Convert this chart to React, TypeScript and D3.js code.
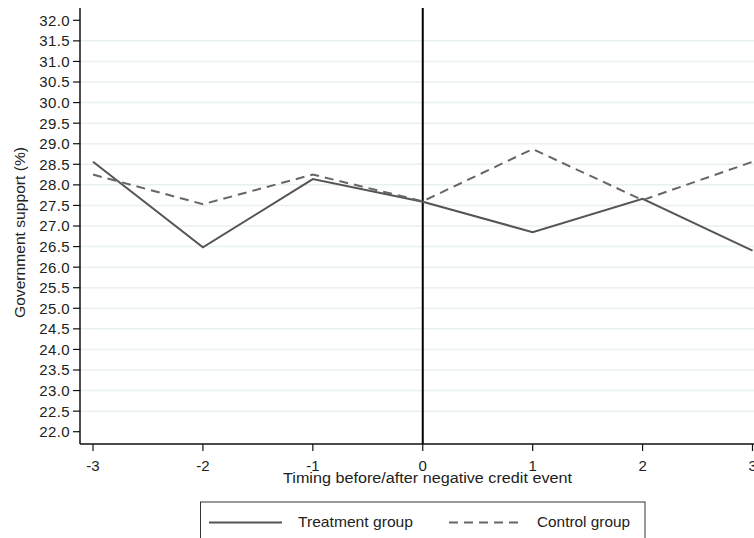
import React from "react";
import * as d3 from "d3";

const timing = [-3, -2, -1, 0, 1, 2, 3];
const treatment = [28.56, 26.48, 28.14, 27.59, 26.85, 27.66, 26.4];
const control = [28.25, 27.53, 28.25, 27.6, 28.87, 27.63, 28.56];
const yTicks = d3.range(22, 32.01, 0.5);

const W = 754;
const H = 538;
const FONT = "'Liberation Sans', Arial, sans-serif";

export default function App() {
  const x = d3.scaleLinear().domain([-3, 3]).range([93, 752.5]);
  const y = d3.scaleLinear().domain([22, 32]).range([431.7, 20.3]);
  const axisY = 80;
  const axisX = 444;
  const line = d3
    .line<number>()
    .x((_, i) => x(timing[i]))
    .y((d) => y(d));

  return (
    <svg
      width={W}
      height={H}
      style={{ position: "absolute", left: 0, top: 0, background: "#fff" }}
      fontFamily={FONT}
    >
      {/* horizontal grid */}
      {yTicks
        .filter((t) => t > 22 && t < 32)
        .map((t) => (
          <line key={"g" + t} x1={axisY} x2={W} y1={y(t)} y2={y(t)} stroke="#e9f0f2" strokeWidth={1.5} />
        ))}
      {/* y axis */}
      <line x1={axisY} x2={axisY} y1={8} y2={axisX} stroke="#111" strokeWidth={1.5} />
      {yTicks.map((t) => (
        <g key={"y" + t}>
          <line x1={axisY - 7} x2={axisY} y1={y(t)} y2={y(t)} stroke="#111" strokeWidth={1.2} />
          <text x={axisY - 10} y={y(t)} dy="0.36em" textAnchor="end" fontSize={15} letterSpacing={0.4} fill="#222">
            {t.toFixed(1)}
          </text>
        </g>
      ))}
      {/* x axis */}
      <line x1={axisY} x2={W} y1={axisX} y2={axisX} stroke="#111" strokeWidth={1.5} />
      {timing.map((t) => (
        <g key={"x" + t}>
          <line x1={x(t)} x2={x(t)} y1={axisX} y2={axisX + 7} stroke="#111" strokeWidth={1.2} />
          <text x={x(t)} y={471} textAnchor={t === 3 ? "start" : "middle"} dx={t === 3 ? -4 : 0} fontSize={15} fill="#222">
            {t}
          </text>
        </g>
      ))}
      <text x={283} y={483} fontSize={14} textLength={289} lengthAdjust="spacingAndGlyphs" fill="#222">
        Timing before/after negative credit event
      </text>
      <text
        transform={`translate(25, 318) rotate(-90)`}
        fontSize={14}
        textLength={171}
        lengthAdjust="spacingAndGlyphs"
        fill="#222"
      >
        Government support (%)
      </text>
      {/* event line */}
      <line x1={x(0)} x2={x(0)} y1={8} y2={axisX} stroke="#000" strokeWidth={2} />
      {/* series */}
      <path d={line(treatment) || ""} fill="none" stroke="#555" strokeWidth={2} />
      <path d={line(control) || ""} fill="none" stroke="#666" strokeWidth={2} strokeDasharray="9 6" />
      {/* legend */}
      <rect x={200.5} y={502} width={444.5} height={50} fill="#fff" stroke="#333" strokeWidth={1} />
      <line x1={209} x2={282} y1={522.5} y2={522.5} stroke="#555" strokeWidth={2} />
      <text x={298} y={527} fontSize={15} textLength={115} lengthAdjust="spacingAndGlyphs" fill="#222">
        Treatment group
      </text>
      <line x1={449} x2={522} y1={522.5} y2={522.5} stroke="#666" strokeWidth={2} strokeDasharray="9 6" />
      <text x={537} y={527} fontSize={15} textLength={93} lengthAdjust="spacingAndGlyphs" fill="#222">
        Control group
      </text>
    </svg>
  );
}
